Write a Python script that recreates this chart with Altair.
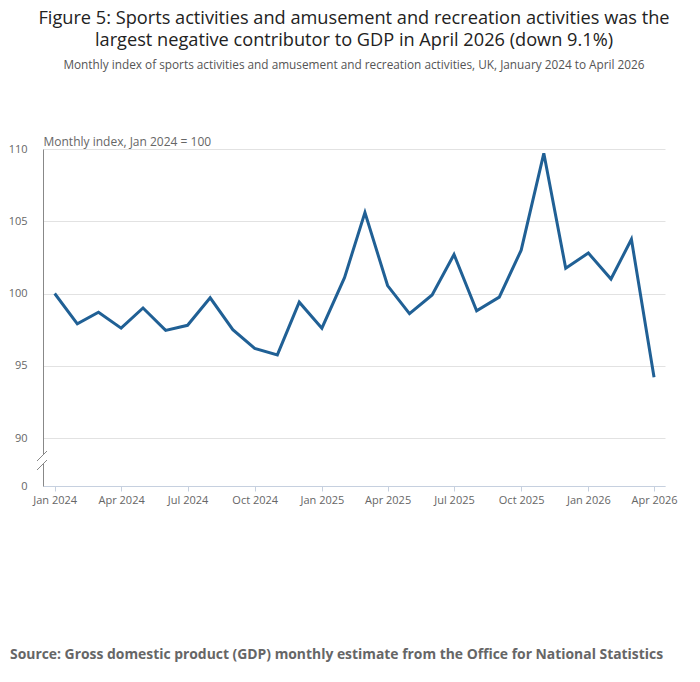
"""Figure 5: sports, amusement and recreation activities monthly index."""

from __future__ import annotations

import altair as alt
import pandas as pd

FONT = "Open Sans"

months = pd.date_range("2024-01-01", "2026-04-01", freq="MS").strftime("%Y-%m-%d").tolist()
index_values = [
    100.0, 97.9, 98.7, 97.6, 99.0, 97.45, 97.8, 99.7, 97.5, 96.2, 95.75, 99.4,
    97.6, 101.1, 105.6, 100.55, 98.6, 99.9, 102.7, 98.8, 99.75, 103.0, 109.7, 101.75,
    102.8, 101.0, 103.75, 94.2,
]
y_ticks = [0, 90, 95, 100, 105, 110]
x_tick_dates = [(2024, 1), (2024, 4), (2024, 7), (2024, 10), (2025, 1), (2025, 4),
                (2025, 7), (2025, 10), (2026, 1), (2026, 4)]

title_lines = [
    "Figure 5: Sports activities and amusement and recreation activities was the",
    "largest negative contributor to GDP in April 2026 (down 9.1%)",
]
subtitle = ("Monthly index of sports activities and amusement and recreation "
            "activities, UK, January 2024 to April 2026")
source = "Source: Gross domestic product (GDP) monthly estimate from the Office for National Statistics"

W, H = 622, 337

df = pd.DataFrame({"date": months, "value": index_values})

x_enc = alt.X(
    "date:T",
    title=None,
    scale=alt.Scale(
        type="utc",
        domain=[alt.DateTime(year=2023, month=12, date=16, utc=True),
                alt.DateTime(year=2026, month=4, date=16, utc=True)],
    ),
    axis=alt.Axis(
        values=[alt.DateTime(year=y, month=m, date=1, utc=True) for y, m in x_tick_dates],
        labelExpr="utcFormat(datum.value, '%b %Y')",
        grid=False,
        domainColor="#c6d0df",
        tickColor="#c6d0df",
        tickSize=5,
        labelFont=FONT,
        labelFontSize=11,
        labelColor="#666666",
        labelPadding=3,
    ),
)

y_enc = alt.Y(
    "value:Q",
    title="Monthly index, Jan 2024 = 100",
    scale=alt.Scale(domain=[0, 90, 110], range=[H, H - 48, 0], nice=False, zero=False),
    axis=alt.Axis(
        values=y_ticks,
        grid=True,
        gridColor="#e2e2e2",
        domainColor="#888888",
        ticks=False,
        labelFont=FONT,
        labelFontSize=11,
        labelColor="#666666",
        labelPadding=16,
        titleFont=FONT,
        titleFontSize=12,
        titleFontWeight="normal",
        titleColor="#666666",
        titleAngle=0,
        titleAlign="left",
        titleBaseline="bottom",
        titleX=0,
        titleY=-1,
    ),
)

line = alt.Chart(df).mark_line(color="#206095", strokeWidth=3).encode(x=x_enc, y=y_enc)

# axis break: gap in the y axis and two slashes
gap = alt.Chart(df.head(1)).mark_rule(color="white", strokeWidth=4).encode(
    x=alt.value(0), y=alt.value(305), y2=alt.value(315)
)
slash1 = alt.Chart(df.head(1)).mark_rule(color="#888888", strokeWidth=1).encode(
    x=alt.value(-6), x2=alt.value(4), y=alt.value(312), y2=alt.value(302)
)
slash2 = alt.Chart(df.head(1)).mark_rule(color="#888888", strokeWidth=1).encode(
    x=alt.value(-6), x2=alt.value(4), y=alt.value(321), y2=alt.value(311)
)

source_text = alt.Chart(pd.DataFrame({"t": [source]})).mark_text(
    font=FONT, fontSize=13.9, fontWeight="bold", color="#666666", align="left", baseline="middle"
).encode(x=alt.value(-33), y=alt.value(506), text="t:N")

chart = (
    alt.layer(line, gap, slash1, slash2, source_text)
    .properties(
        width=W,
        height=H,
        autosize=alt.AutoSizeParams(type="none"),
        padding={"left": 35, "top": 141, "right": 27, "bottom": 180},
        title=alt.TitleParams(
            text=title_lines,
            subtitle=subtitle,
            anchor="middle",
            font=FONT,
            fontSize=18.2,
            fontWeight="normal",
            color="#222222",
            lineHeight=22,
            subtitleFont=FONT,
            subtitleFontSize=11.8,
            subtitleColor="#555555",
            subtitlePadding=10,
            offset=62,
        ),
    )
    .configure_view(stroke=None)
)

chart.save("out.html", embed_options={"renderer": "svg", "actions": False})
